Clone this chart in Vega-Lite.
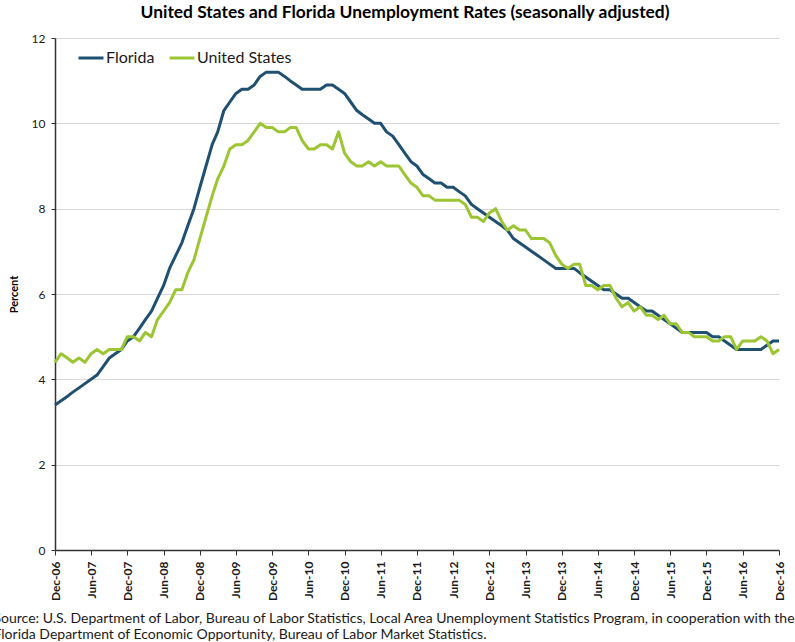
{
  "$schema": "https://vega.github.io/schema/vega-lite/v6.json",
  "width": 724,
  "height": 512,
  "autosize": "none",
  "padding": {"left": 55, "top": 38, "right": 16, "bottom": 92},
  "background": "white",
  "title": {
    "text": "United States and Florida Unemployment Rates (seasonally adjusted)",
    "font": "Lato",
    "fontSize": 17.4,
    "fontWeight": "bold",
    "color": "#000000",
    "anchor": "middle",
    "dx": -12,
    "offset": 11
  },
  "data": {
    "values": [
      {"d": "2006-12-01", "Florida": 3.4, "United States": 4.4},
      {"d": "2007-01-01", "Florida": 3.5, "United States": 4.6},
      {"d": "2007-02-01", "Florida": 3.6, "United States": 4.5},
      {"d": "2007-03-01", "Florida": 3.7, "United States": 4.4},
      {"d": "2007-04-01", "Florida": 3.8, "United States": 4.5},
      {"d": "2007-05-01", "Florida": 3.9, "United States": 4.4},
      {"d": "2007-06-01", "Florida": 4.0, "United States": 4.6},
      {"d": "2007-07-01", "Florida": 4.1, "United States": 4.7},
      {"d": "2007-08-01", "Florida": 4.3, "United States": 4.6},
      {"d": "2007-09-01", "Florida": 4.5, "United States": 4.7},
      {"d": "2007-10-01", "Florida": 4.6, "United States": 4.7},
      {"d": "2007-11-01", "Florida": 4.7, "United States": 4.7},
      {"d": "2007-12-01", "Florida": 4.9, "United States": 5.0},
      {"d": "2008-01-01", "Florida": 5.0, "United States": 5.0},
      {"d": "2008-02-01", "Florida": 5.2, "United States": 4.9},
      {"d": "2008-03-01", "Florida": 5.4, "United States": 5.1},
      {"d": "2008-04-01", "Florida": 5.6, "United States": 5.0},
      {"d": "2008-05-01", "Florida": 5.9, "United States": 5.4},
      {"d": "2008-06-01", "Florida": 6.2, "United States": 5.6},
      {"d": "2008-07-01", "Florida": 6.6, "United States": 5.8},
      {"d": "2008-08-01", "Florida": 6.9, "United States": 6.1},
      {"d": "2008-09-01", "Florida": 7.2, "United States": 6.1},
      {"d": "2008-10-01", "Florida": 7.6, "United States": 6.5},
      {"d": "2008-11-01", "Florida": 8.0, "United States": 6.8},
      {"d": "2008-12-01", "Florida": 8.5, "United States": 7.3},
      {"d": "2009-01-01", "Florida": 9.0, "United States": 7.8},
      {"d": "2009-02-01", "Florida": 9.5, "United States": 8.3},
      {"d": "2009-03-01", "Florida": 9.8, "United States": 8.7},
      {"d": "2009-04-01", "Florida": 10.3, "United States": 9.0},
      {"d": "2009-05-01", "Florida": 10.5, "United States": 9.4},
      {"d": "2009-06-01", "Florida": 10.7, "United States": 9.5},
      {"d": "2009-07-01", "Florida": 10.8, "United States": 9.5},
      {"d": "2009-08-01", "Florida": 10.8, "United States": 9.6},
      {"d": "2009-09-01", "Florida": 10.9, "United States": 9.8},
      {"d": "2009-10-01", "Florida": 11.1, "United States": 10.0},
      {"d": "2009-11-01", "Florida": 11.2, "United States": 9.9},
      {"d": "2009-12-01", "Florida": 11.2, "United States": 9.9},
      {"d": "2010-01-01", "Florida": 11.2, "United States": 9.8},
      {"d": "2010-02-01", "Florida": 11.1, "United States": 9.8},
      {"d": "2010-03-01", "Florida": 11.0, "United States": 9.9},
      {"d": "2010-04-01", "Florida": 10.9, "United States": 9.9},
      {"d": "2010-05-01", "Florida": 10.8, "United States": 9.6},
      {"d": "2010-06-01", "Florida": 10.8, "United States": 9.4},
      {"d": "2010-07-01", "Florida": 10.8, "United States": 9.4},
      {"d": "2010-08-01", "Florida": 10.8, "United States": 9.5},
      {"d": "2010-09-01", "Florida": 10.9, "United States": 9.5},
      {"d": "2010-10-01", "Florida": 10.9, "United States": 9.4},
      {"d": "2010-11-01", "Florida": 10.8, "United States": 9.8},
      {"d": "2010-12-01", "Florida": 10.7, "United States": 9.3},
      {"d": "2011-01-01", "Florida": 10.5, "United States": 9.1},
      {"d": "2011-02-01", "Florida": 10.3, "United States": 9.0},
      {"d": "2011-03-01", "Florida": 10.2, "United States": 9.0},
      {"d": "2011-04-01", "Florida": 10.1, "United States": 9.1},
      {"d": "2011-05-01", "Florida": 10.0, "United States": 9.0},
      {"d": "2011-06-01", "Florida": 10.0, "United States": 9.1},
      {"d": "2011-07-01", "Florida": 9.8, "United States": 9.0},
      {"d": "2011-08-01", "Florida": 9.7, "United States": 9.0},
      {"d": "2011-09-01", "Florida": 9.5, "United States": 9.0},
      {"d": "2011-10-01", "Florida": 9.3, "United States": 8.8},
      {"d": "2011-11-01", "Florida": 9.1, "United States": 8.6},
      {"d": "2011-12-01", "Florida": 9.0, "United States": 8.5},
      {"d": "2012-01-01", "Florida": 8.8, "United States": 8.3},
      {"d": "2012-02-01", "Florida": 8.7, "United States": 8.3},
      {"d": "2012-03-01", "Florida": 8.6, "United States": 8.2},
      {"d": "2012-04-01", "Florida": 8.6, "United States": 8.2},
      {"d": "2012-05-01", "Florida": 8.5, "United States": 8.2},
      {"d": "2012-06-01", "Florida": 8.5, "United States": 8.2},
      {"d": "2012-07-01", "Florida": 8.4, "United States": 8.2},
      {"d": "2012-08-01", "Florida": 8.3, "United States": 8.1},
      {"d": "2012-09-01", "Florida": 8.1, "United States": 7.8},
      {"d": "2012-10-01", "Florida": 8.0, "United States": 7.8},
      {"d": "2012-11-01", "Florida": 7.9, "United States": 7.7},
      {"d": "2012-12-01", "Florida": 7.8, "United States": 7.9},
      {"d": "2013-01-01", "Florida": 7.7, "United States": 8.0},
      {"d": "2013-02-01", "Florida": 7.6, "United States": 7.7},
      {"d": "2013-03-01", "Florida": 7.5, "United States": 7.5},
      {"d": "2013-04-01", "Florida": 7.3, "United States": 7.6},
      {"d": "2013-05-01", "Florida": 7.2, "United States": 7.5},
      {"d": "2013-06-01", "Florida": 7.1, "United States": 7.5},
      {"d": "2013-07-01", "Florida": 7.0, "United States": 7.3},
      {"d": "2013-08-01", "Florida": 6.9, "United States": 7.3},
      {"d": "2013-09-01", "Florida": 6.8, "United States": 7.3},
      {"d": "2013-10-01", "Florida": 6.7, "United States": 7.2},
      {"d": "2013-11-01", "Florida": 6.6, "United States": 6.9},
      {"d": "2013-12-01", "Florida": 6.6, "United States": 6.7},
      {"d": "2014-01-01", "Florida": 6.6, "United States": 6.6},
      {"d": "2014-02-01", "Florida": 6.6, "United States": 6.7},
      {"d": "2014-03-01", "Florida": 6.5, "United States": 6.7},
      {"d": "2014-04-01", "Florida": 6.4, "United States": 6.2},
      {"d": "2014-05-01", "Florida": 6.3, "United States": 6.2},
      {"d": "2014-06-01", "Florida": 6.2, "United States": 6.1},
      {"d": "2014-07-01", "Florida": 6.1, "United States": 6.2},
      {"d": "2014-08-01", "Florida": 6.1, "United States": 6.2},
      {"d": "2014-09-01", "Florida": 6.0, "United States": 5.9},
      {"d": "2014-10-01", "Florida": 5.9, "United States": 5.7},
      {"d": "2014-11-01", "Florida": 5.9, "United States": 5.8},
      {"d": "2014-12-01", "Florida": 5.8, "United States": 5.6},
      {"d": "2015-01-01", "Florida": 5.7, "United States": 5.7},
      {"d": "2015-02-01", "Florida": 5.6, "United States": 5.5},
      {"d": "2015-03-01", "Florida": 5.6, "United States": 5.5},
      {"d": "2015-04-01", "Florida": 5.5, "United States": 5.4},
      {"d": "2015-05-01", "Florida": 5.4, "United States": 5.5},
      {"d": "2015-06-01", "Florida": 5.3, "United States": 5.3},
      {"d": "2015-07-01", "Florida": 5.2, "United States": 5.3},
      {"d": "2015-08-01", "Florida": 5.1, "United States": 5.1},
      {"d": "2015-09-01", "Florida": 5.1, "United States": 5.1},
      {"d": "2015-10-01", "Florida": 5.1, "United States": 5.0},
      {"d": "2015-11-01", "Florida": 5.1, "United States": 5.0},
      {"d": "2015-12-01", "Florida": 5.1, "United States": 5.0},
      {"d": "2016-01-01", "Florida": 5.0, "United States": 4.9},
      {"d": "2016-02-01", "Florida": 5.0, "United States": 4.9},
      {"d": "2016-03-01", "Florida": 4.9, "United States": 5.0},
      {"d": "2016-04-01", "Florida": 4.8, "United States": 5.0},
      {"d": "2016-05-01", "Florida": 4.7, "United States": 4.7},
      {"d": "2016-06-01", "Florida": 4.7, "United States": 4.9},
      {"d": "2016-07-01", "Florida": 4.7, "United States": 4.9},
      {"d": "2016-08-01", "Florida": 4.7, "United States": 4.9},
      {"d": "2016-09-01", "Florida": 4.7, "United States": 5.0},
      {"d": "2016-10-01", "Florida": 4.8, "United States": 4.9},
      {"d": "2016-11-01", "Florida": 4.9, "United States": 4.6},
      {"d": "2016-12-01", "Florida": 4.9, "United States": 4.7}
    ]
  },
  "transform": [
    {"fold": ["Florida", "United States"], "as": ["series", "rate"]}
  ],
  "mark": {"type": "line", "strokeWidth": 3, "strokeJoin": "round", "strokeCap": "butt"},
  "encoding": {
    "x": {
      "field": "d",
      "type": "temporal",
      "scale": {
        "type": "utc",
        "domain": [
          {"year": 2006, "month": 12, "date": 1, "utc": true},
          {"year": 2016, "month": 12, "date": 1, "utc": true}
        ]
      },
      "axis": {
        "values": [
          {"year": 2006, "month": 12, "date": 1, "utc": true},
          {"year": 2007, "month": 6, "date": 1, "utc": true},
          {"year": 2007, "month": 12, "date": 1, "utc": true},
          {"year": 2008, "month": 6, "date": 1, "utc": true},
          {"year": 2008, "month": 12, "date": 1, "utc": true},
          {"year": 2009, "month": 6, "date": 1, "utc": true},
          {"year": 2009, "month": 12, "date": 1, "utc": true},
          {"year": 2010, "month": 6, "date": 1, "utc": true},
          {"year": 2010, "month": 12, "date": 1, "utc": true},
          {"year": 2011, "month": 6, "date": 1, "utc": true},
          {"year": 2011, "month": 12, "date": 1, "utc": true},
          {"year": 2012, "month": 6, "date": 1, "utc": true},
          {"year": 2012, "month": 12, "date": 1, "utc": true},
          {"year": 2013, "month": 6, "date": 1, "utc": true},
          {"year": 2013, "month": 12, "date": 1, "utc": true},
          {"year": 2014, "month": 6, "date": 1, "utc": true},
          {"year": 2014, "month": 12, "date": 1, "utc": true},
          {"year": 2015, "month": 6, "date": 1, "utc": true},
          {"year": 2015, "month": 12, "date": 1, "utc": true},
          {"year": 2016, "month": 6, "date": 1, "utc": true},
          {"year": 2016, "month": 12, "date": 1, "utc": true}
        ],
        "labelExpr": "utcFormat(datum.value, '%b-%y')",
        "labelAngle": -90,
        "labelFont": "Lato",
        "labelFontSize": 12,
        "labelFontWeight": "bold",
        "labelColor": "#1a1a1a",
        "labelPadding": 6,
        "labelOverlap": false,
        "labelBound": false,
        "labelFlush": false,
        "grid": false,
        "domainColor": "#333333",
        "domainWidth": 1.5,
        "tickColor": "#333333",
        "tickSize": 5,
        "title": [
          "Source:  U.S. Department of Labor, Bureau of Labor Statistics, Local Area Unemployment Statistics Program, in cooperation with the",
          "Florida Department of Economic Opportunity, Bureau of Labor Market Statistics."
        ],
        "titleFont": "Lato",
        "titleFontSize": 14,
        "titleFontWeight": "normal",
        "titleColor": "#1a1a1a",
        "titleAlign": "left",
        "titleAnchor": "start",
        "titleBaseline": "alphabetic",
        "titleX": -62,
        "titleY": 72,
        "titleLineHeight": 16
      }
    },
    "y": {
      "field": "rate",
      "type": "quantitative",
      "scale": {"domain": [0, 12], "nice": false, "zero": true},
      "axis": {
        "values": [0, 2, 4, 6, 8, 10, 12],
        "labelFont": "Lato",
        "labelFontSize": 12,
        "labelColor": "#1a1a1a",
        "labelPadding": 6,
        "gridColor": "#d9d9d9",
        "gridWidth": 1,
        "domainColor": "#333333",
        "domainWidth": 1.5,
        "tickColor": "#333333",
        "tickSize": 4,
        "title": "Percent",
        "titleFont": "Lato",
        "titleFontSize": 11,
        "titleFontWeight": "bold",
        "titleColor": "#000000",
        "titlePadding": 12
      }
    },
    "color": {
      "field": "series",
      "type": "nominal",
      "scale": {"domain": ["Florida", "United States"], "range": ["#1f5072", "#9cc533"]},
      "legend": {
        "title": null,
        "orient": "none",
        "legendX": 22,
        "legendY": 6,
        "direction": "horizontal",
        "symbolType": "stroke",
        "symbolSize": 625,
        "symbolStrokeWidth": 3,
        "labelFont": "Lato",
        "labelFontSize": 16,
        "labelColor": "#1a1a1a",
        "labelOffset": 1,
        "columnPadding": 8
      }
    }
  },
  "config": {"view": {"stroke": null}}
}
